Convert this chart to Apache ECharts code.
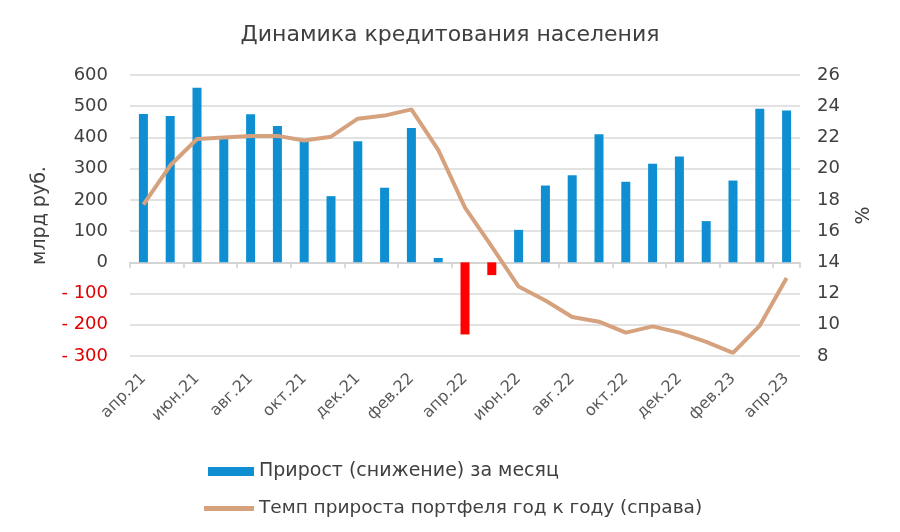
<!DOCTYPE html>
<html><head><meta charset="utf-8">
<script src="https://cdn.jsdelivr.net/npm/echarts@6/dist/echarts.min.js"></script>
<style>html,body{margin:0;padding:0;background:#fff}#c{width:900px;height:532px}</style>
</head><body><div id="c"></div>
<script>
var categories = ['апр.21','май.21','июн.21','июл.21','авг.21','сен.21','окт.21','ноя.21','дек.21','янв.22','фев.22','мар.22','апр.22','май.22','июн.22','июл.22','авг.22','сен.22','окт.22','ноя.22','дек.22','янв.23','фев.23','мар.23','апр.23'];
var monthlyGrowth = [475,469,559,397,474,437,392,212,388,239,430,14,-231,-41,104,246,279,410,258,316,339,132,262,492,486];
var yoyRate = [17.7,20.2,21.9,22.0,22.1,22.1,21.8,22.05,23.2,23.4,23.8,21.2,17.5,15.0,12.45,11.55,10.5,10.2,9.5,9.9,9.5,8.9,8.2,9.95,13.0];
var leftTicks = {min:-300, max:600, interval:100};
var rightTicks = {min:8, max:26, interval:2};
var barName = 'Прирост (снижение) за месяц';
var lineName = 'Темп прироста портфеля год к году (справа)';

var FONT = 'DejaVu Sans';
var TXT = '#404040';
var chart = echarts.init(document.getElementById('c'), null, {renderer:'canvas'});
chart.setOption({
  backgroundColor:'#fff',
  animation:false,
  textStyle:{fontFamily:FONT},
  title:{text:'Динамика кредитования населения', left:'center', top:19,
    textStyle:{fontFamily:FONT, fontSize:22, fontWeight:'normal', color:TXT}},
  grid:{left:130, right:100, top:75, bottom:176},
  legend:[
    {left:203, top:457, itemWidth:46, itemHeight:9, itemGap:10, icon:'rect',
     textStyle:{fontFamily:FONT, fontSize:19, color:TXT},
     data:[barName]},
    {left:199, top:494, itemWidth:50, itemHeight:5, itemGap:10, icon:'rect',
     textStyle:{fontFamily:FONT, fontSize:18.5, color:TXT},
     data:[lineName]}
  ],
  xAxis:[
    {type:'category', data:categories,
     axisLine:{onZero:true, onZeroAxisIndex:0, lineStyle:{color:'#d0d0d0', width:1.5}},
     axisTick:{show:true, interval:1, length:6, lineStyle:{color:'#d0d0d0', width:1.5}},
     axisLabel:{show:false}},
    {type:'category', data:categories, position:'bottom',
     axisLine:{show:false, onZero:false}, axisTick:{show:false},
     axisLabel:{interval:1, rotate:45, fontSize:16, color:'#595959', fontFamily:FONT, margin:20}}
  ],
  yAxis:[
    {type:'value', min:leftTicks.min, max:leftTicks.max, interval:leftTicks.interval,
     name:'млрд руб.', nameLocation:'middle', nameGap:80, nameRotate:90,
     nameTextStyle:{fontSize:19, color:TXT, fontFamily:FONT},
     axisLine:{show:false}, axisTick:{show:false},
     splitLine:{lineStyle:{color:'#d9d9d9', width:1.5}},
     axisLabel:{fontSize:18, margin:22, fontFamily:FONT,
       formatter:function(v){return v<0 ? '{n|- '+Math.abs(v)+'}' : '{p|'+v+'}';},
       rich:{n:{color:'#e00000', fontSize:18, fontFamily:FONT}, p:{color:TXT, fontSize:18, fontFamily:FONT}}}},
    {type:'value', min:rightTicks.min, max:rightTicks.max, interval:rightTicks.interval,
     name:'%', nameLocation:'middle', nameGap:55, nameRotate:90,
     nameTextStyle:{fontSize:19, color:TXT, fontFamily:FONT},
     axisLine:{show:false}, axisTick:{show:false}, splitLine:{show:false},
     axisLabel:{fontSize:18, color:TXT, margin:17, fontFamily:FONT}}
  ],
  series:[
    {name:barName, type:'bar', xAxisIndex:0, yAxisIndex:0, barWidth:9,
     itemStyle:{color:'#0f8fd2'},
     data:monthlyGrowth.map(function(v){return v<0 ? {value:v, itemStyle:{color:'#ff0000'}} : v;})},
    {name:lineName, type:'line', xAxisIndex:0, yAxisIndex:1,
     symbol:'none', smooth:false, lineStyle:{color:'#d6a27e', width:4}, itemStyle:{color:'#d6a27e'},
     data:yoyRate}
  ]
});
</script></body></html>
